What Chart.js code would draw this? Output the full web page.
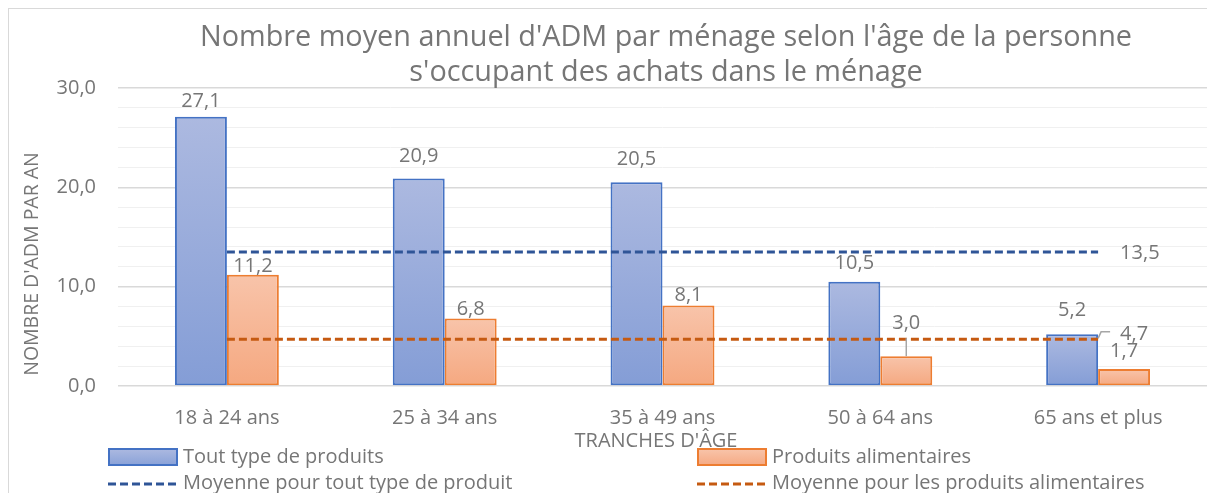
<!DOCTYPE html>
<html lang="fr">
<head>
<meta charset="utf-8">
<title>Nombre moyen annuel d'ADM par ménage</title>
<script src="https://cdn.jsdelivr.net/npm/chart.js@4.4.1/dist/chart.umd.min.js"></script>
<style>
  html, body { margin: 0; padding: 0; background: #fff; }
  #wrap { position: relative; width: 1207px; height: 493px; }
</style>
</head>
<body>
<div id="wrap"><canvas id="admChart"></canvas></div>
<script>
// Données : nombre moyen d'ADM par an selon la tranche d'âge
const tranches = ["18 à 24 ans", "25 à 34 ans", "35 à 49 ans", "50 à 64 ans", "65 ans et plus"];
const toutType = [27.1, 20.9, 20.5, 10.5, 5.2];
const alimentaires = [11.2, 6.8, 8.1, 3.0, 1.7];
const moyenneToutType = [13.5, 13.5, 13.5, 13.5, 13.5];
const moyenneAlimentaires = [4.7, 4.7, 4.7, 4.7, 4.7];
const yTicks = [0, 10, 20, 30];

const TEXT = "#767676";
const FAMILY = '"Open Sans", "Noto Sans", sans-serif';
const font = (size) => size + "px " + FAMILY;
const fmt = (v) => v.toFixed(1).replace(".", ",");

// dégradé vertical propre à chaque barre
function barFill(top, bottom) {
  return (c) => {
    const chart = c.chart;
    if (c.type !== "data" || !chart.chartArea) return top;
    const y = chart.scales.y;
    const g = chart.ctx.createLinearGradient(0, y.getPixelForValue(c.raw), 0, y.getPixelForValue(0));
    g.addColorStop(0, top);
    g.addColorStop(1, bottom);
    return g;
  };
}

// étiquettes de valeur sur les barres et les moyennes
const valueLabels = {
  id: "valueLabels",
  afterDatasetsDraw(chart, args, opts) {
    const ctx = chart.ctx;
    ctx.save();
    ctx.font = font(20);
    ctx.fillStyle = TEXT;
    ctx.strokeStyle = "#a6a6a6";
    ctx.lineWidth = 1.5;
    ctx.textBaseline = "alphabetic";

    ctx.textAlign = "center";
    [0, 1].forEach((di) => {
      const meta = chart.getDatasetMeta(di);
      meta.data.forEach((bar, i) => {
        const lift = opts.lift[di][i];
        const cy = bar.y - lift;
        ctx.fillText(fmt(chart.data.datasets[di].data[i]), bar.x, cy + 7);
        if (lift > 30) {
          ctx.beginPath();
          ctx.moveTo(bar.x, cy + 16);
          ctx.lineTo(bar.x, bar.y);
          ctx.stroke();
        }
      });
    });

    ctx.textAlign = "left";
    [2, 3].forEach((di, k) => {
      const meta = chart.getDatasetMeta(di);
      const last = meta.data[meta.data.length - 1];
      const o = opts.avg[k];
      const values = chart.data.datasets[di].data;
      ctx.fillText(fmt(values[values.length - 1]), last.x + o.dx, last.y + o.dy + 7);
      if (o.leader) {
        ctx.beginPath();
        ctx.moveTo(last.x, last.y - 1);
        ctx.lineTo(last.x + 3, last.y - 7.5);
        ctx.lineTo(last.x + 12, last.y - 7.5);
        ctx.stroke();
      }
    });
    ctx.restore();
  }
};

// titre, titres d'axes, légende et cadre
const decor = {
  id: "decor",
  afterDraw(chart) {
    const ctx = chart.ctx;
    const ds = chart.data.datasets;
    ctx.save();

    ctx.strokeStyle = "#d9d9d9";
    ctx.lineWidth = 1;
    ctx.strokeRect(8.5, 8.5, 1400, 800);

    ctx.fillStyle = TEXT;
    ctx.textAlign = "center";
    ctx.textBaseline = "alphabetic";
    ctx.font = font(28.8);
    ctx.fillText("Nombre moyen annuel d'ADM par ménage selon l'âge de la personne", 666, 46);
    ctx.fillText("s'occupant des achats dans le ménage", 666, 81);

    ctx.font = font(20);
    ctx.textBaseline = "middle";
    ctx.fillText("TRANCHES D'ÂGE", 656, 441);

    ctx.save();
    ctx.font = font(19.5);
    ctx.translate(32, 264);
    ctx.rotate(-Math.PI / 2);
    ctx.fillText("NOMBRE D'ADM PAR AN", 0, 0);
    ctx.restore();

    // légende sur deux colonnes
    const cols = [108, 697];
    const rows = [457, 483];
    const items = [
      { di: 0, col: 0, row: 0, top: "#acb9e0", bottom: "#8aa2d8" },
      { di: 1, col: 1, row: 0, top: "#f8c4aa", bottom: "#f5aa84" },
      { di: 2, col: 0, row: 1 },
      { di: 3, col: 1, row: 1 }
    ];
    ctx.textAlign = "left";
    items.forEach((it) => {
      const d = ds[it.di];
      const x = cols[it.col];
      const y = rows[it.row];
      if (it.top) {
        const g = ctx.createLinearGradient(0, y - 8, 0, y + 8);
        g.addColorStop(0, it.top);
        g.addColorStop(1, it.bottom);
        ctx.fillStyle = g;
        ctx.fillRect(x + 1, y - 8, 68, 16);
        ctx.strokeStyle = d.borderColor;
        ctx.lineWidth = 2;
        ctx.strokeRect(x + 1, y - 8, 68, 16);
      } else {
        ctx.strokeStyle = d.borderColor;
        ctx.lineWidth = 3;
        ctx.setLineDash([8, 4]);
        ctx.beginPath();
        ctx.moveTo(x, y + 1);
        ctx.lineTo(x + 70, y + 1);
        ctx.stroke();
        ctx.setLineDash([]);
      }
      ctx.fillStyle = TEXT;
      ctx.fillText(d.label, x + 75, y);
    });
    ctx.restore();
  }
};

function draw() {
  new Chart(document.getElementById("admChart"), {
    type: "bar",
    data: {
      labels: tranches,
      datasets: [
        {
          label: "Tout type de produits",
          data: toutType,
          backgroundColor: barFill("#acb9e0", "#849dd6"),
          borderColor: "#4472c4",
          borderWidth: 2,
          borderSkipped: false,
          categoryPercentage: 0.477,
          barPercentage: 1,
          order: 1
        },
        {
          label: "Produits alimentaires",
          data: alimentaires,
          backgroundColor: barFill("#f8c4aa", "#f5a880"),
          borderColor: "#ed7d31",
          borderWidth: 2,
          borderSkipped: false,
          categoryPercentage: 0.477,
          barPercentage: 1,
          order: 1
        },
        {
          type: "line",
          label: "Moyenne pour tout type de produit",
          data: moyenneToutType,
          borderColor: "#2f5597",
          borderWidth: 3,
          borderDash: [8, 4],
          pointRadius: 0,
          fill: false,
          order: 0
        },
        {
          type: "line",
          label: "Moyenne pour les produits alimentaires",
          data: moyenneAlimentaires,
          borderColor: "#c55a11",
          borderWidth: 3,
          borderDash: [8, 4],
          pointRadius: 0,
          fill: false,
          order: 0
        }
      ]
    },
    options: {
      responsive: true,
      maintainAspectRatio: false,
      animation: false,
      layout: { padding: { top: 88, left: 0, right: 0, bottom: 0 } },
      scales: {
        x: {
          grid: { display: false },
          border: { display: false },
          ticks: { color: TEXT, font: { family: FAMILY, size: 20 }, padding: 12, maxRotation: 0, autoSkip: false },
          afterFit: (s) => { s.height = 107; }
        },
        y: {
          min: 0,
          max: 30,
          border: { display: false },
          grid: {
            drawTicks: false,
            color: (c) => (yTicks.includes(c.tick.value) ? "#d9d9d9" : "#f0f0f0"),
            lineWidth: (c) => (yTicks.includes(c.tick.value) ? 1.5 : 1)
          },
          ticks: {
            stepSize: 2,
            autoSkip: false,
            padding: 22,
            color: TEXT,
            font: { family: FAMILY, size: 20 },
            callback: (v) => (yTicks.includes(v) ? fmt(v) : "")
          },
          afterFit: (s) => { s.width = 118; }
        }
      },
      plugins: {
        legend: { display: false },
        tooltip: { enabled: false },
        valueLabels: {
          lift: [
            [17, 23, 24, 20, 25],
            [10, 10, 12, 34, 19]
          ],
          avg: [
            { dx: 22, dy: 0, leader: false },
            { dx: 22, dy: -6, leader: true }
          ]
        }
      }
    },
    plugins: [valueLabels, decor]
  });
}

if (document.fonts && document.fonts.load) {
  Promise.all([document.fonts.load(font(20)), document.fonts.load(font(28.8))]).then(draw, draw);
} else {
  draw();
}
</script>
</body>
</html>
